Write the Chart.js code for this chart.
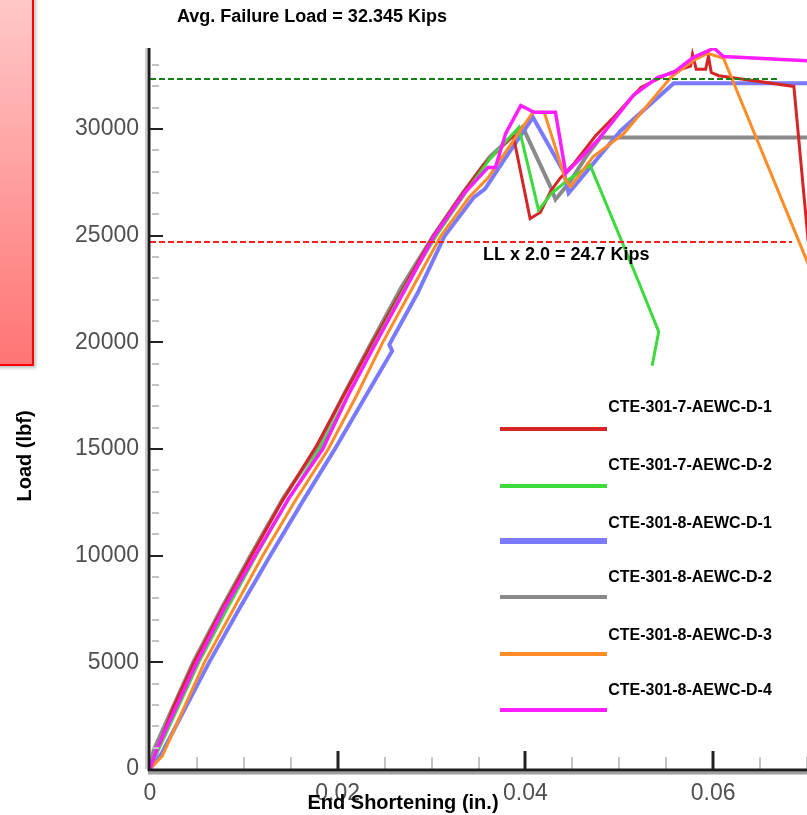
<!DOCTYPE html>
<html>
<head>
<meta charset="utf-8">
<script src="https://cdn.jsdelivr.net/npm/chart.js@4.4.1/dist/chart.umd.min.js"></script>
<style>
  html, body { margin: 0; padding: 0; background: #fff; }
  #wrap { position: relative; width: 807px; height: 815px; overflow: hidden; }
  #loadChart { position: absolute; left: 0; top: 0; }
  #tab {
    position: absolute; left: -10px; top: -10px; width: 42px; height: 374px;
    background: linear-gradient(#ffcaca, #ff7474);
    border-right: 2px solid #f00; border-bottom: 2px solid #f00;
    box-shadow: 2px 2px 3px rgba(0, 0, 0, 0.25);
  }
</style>
</head>
<body>
<div id="wrap">
  <canvas id="loadChart" width="807" height="815"></canvas>
  <div id="tab"></div>
</div>
<script>
// End shortening (in.) vs load (lbf) for each specimen
const specimenNames = [
  'CTE-301-7-AEWC-D-1', 'CTE-301-7-AEWC-D-2', 'CTE-301-8-AEWC-D-1',
  'CTE-301-8-AEWC-D-2', 'CTE-301-8-AEWC-D-3', 'CTE-301-8-AEWC-D-4'
];

const d7_1 = [[0,0],[0.0006,700],[0.0025,2900],[0.0047,5000],[0.0078,7600],[0.0108,10000],[0.014,12500],
  [0.0178,15200],[0.0205,17400],[0.0237,20000],[0.0268,22400],[0.0302,25000],[0.0332,26900],[0.0355,28300],
  [0.0387,29700],[0.0405,25800],[0.0416,26100],[0.0427,27100],[0.0437,27700],[0.0452,28400],[0.0475,29700],
  [0.0494,30550],[0.0523,31950],[0.0555,32650],[0.0576,32950],[0.0578,33500],[0.0582,32800],[0.0592,32800],
  [0.0595,33400],[0.0598,32650],[0.0606,32500],[0.0686,32000],[0.0702,24400]];

const d7_2 = [[0,0],[0.0008,800],[0.0052,5000],[0.0082,7500],[0.0113,10000],[0.0147,12600],[0.0181,15000],
  [0.0212,17600],[0.024,20000],[0.0272,22600],[0.0305,25000],[0.0336,27000],[0.0362,28600],[0.0393,30080],
  [0.0414,26200],[0.0428,27000],[0.0445,27600],[0.0469,28300],[0.052,22900],[0.0542,20500],[0.0535,18900]];

const d8_1 = [[0,0],[0.0012,700],[0.0063,5000],[0.0095,7500],[0.0128,10000],[0.0162,12500],[0.0197,15000],
  [0.023,17500],[0.0258,19600],[0.0255,19900],[0.0285,22300],[0.0314,25000],[0.0345,26800],[0.0357,27200],
  [0.0378,28600],[0.0408,30550],[0.0441,27975],[0.0446,27000],[0.0465,28000],[0.0501,29900],[0.0558,32150],
  [0.0702,32150]];

const d8_2 = [[0,0],[0.0004,900],[0.0046,5000],[0.0077,7600],[0.0107,10000],[0.0142,12700],[0.0177,15000],
  [0.0207,17600],[0.0236,20000],[0.0268,22600],[0.0302,25000],[0.0333,27000],[0.0362,28700],[0.0397,30100],
  [0.0427,27270],[0.0432,26700],[0.0447,27500],[0.0466,28800],[0.048,29600],[0.0702,29600]];

const d8_3 = [[0,0],[0.0013,600],[0.0058,5000],[0.0089,7500],[0.012,10000],[0.0155,12600],[0.019,15000],
  [0.022,17500],[0.0248,20000],[0.0279,22500],[0.031,25000],[0.034,26800],[0.036,27700],[0.038,29000],
  [0.0408,30790],[0.042,30790],[0.0443,27600],[0.0448,27300],[0.0472,28700],[0.0505,29800],[0.0555,32430],
  [0.0579,33220],[0.0594,33550],[0.0611,33320],[0.0702,23600]];

const d8_4 = [[0,0],[0.0008,1000],[0.005,5000],[0.008,7600],[0.0112,10000],[0.0148,12700],[0.0184,15000],
  [0.0212,17600],[0.0241,20000],[0.0272,22500],[0.0303,25000],[0.0335,27000],[0.036,28200],[0.0368,28200],
  [0.0379,29800],[0.0395,31100],[0.0402,30950],[0.0409,30790],[0.0432,30790],[0.0443,27930],[0.0477,29475],
  [0.0515,31580],[0.0541,32430],[0.0558,32660],[0.0579,33365],[0.0601,33790],[0.0611,33400],[0.0702,33200]];

const seriesData = [d7_1, d7_2, d8_1, d8_2, d8_3, d8_4];
const seriesColors = ['#d42626', '#3cda3c', '#7a7aff', '#8a8a8a', '#ff8c26', '#ff1eff'];
const seriesWidths = [3, 3, 4, 4, 3, 3.5];
const drawOrder = [4, 3, 5, 6, 2, 1];

// reference loads (lbf)
const avgFailureLoad = 32345;
const liveLoadX2 = 24700;

const xTicks = [0, 0.02, 0.04, 0.06];
const xTickLabels = ['0', '0.02', '0.04', '0.06'];
const yTicks = [0, 5000, 10000, 15000, 20000, 25000, 30000];
const yTickLabels = ['0', '5000', '10000', '15000', '20000', '25000', '30000'];

const toPoints = arr => arr.map(p => ({ x: p[0], y: p[1] }));

const datasets = seriesData.map((arr, i) => ({
  label: specimenNames[i],
  data: toPoints(arr),
  showLine: true,
  borderColor: seriesColors[i],
  borderWidth: seriesWidths[i],
  pointRadius: 0,
  tension: 0,
  order: drawOrder[i]
}));

datasets.push({
  label: 'avg',
  data: [{ x: 0, y: avgFailureLoad }, { x: 0.067, y: avgFailureLoad }],
  showLine: true, borderColor: '#1a7f1a', borderWidth: 2, borderDash: [6, 3],
  pointRadius: 0, order: 0
});
datasets.push({
  label: 'll',
  data: [{ x: 0, y: liveLoadX2 }, { x: 0.0684, y: liveLoadX2 }],
  showLine: true, borderColor: '#ff1e1e', borderWidth: 2, borderDash: [6, 3],
  pointRadius: 0, order: 0
});

const tickFont = { family: 'Arial, "Liberation Sans", sans-serif', size: 23 };
const boldFont = '"Liberation Sans", Arial, sans-serif';

// axes, inside ticks, notes and the legend
const decorations = {
  id: 'decorations',
  afterDatasetsDraw(chart) {
    const ctx = chart.ctx;
    const a = chart.chartArea;
    const xs = chart.scales.x;
    const ys = chart.scales.y;
    ctx.save();

    // minor ticks
    ctx.strokeStyle = '#c4c4c4';
    ctx.lineWidth = 2;
    for (let v = 1000; v <= 33000; v += 1000) {
      if (v % 5000 === 0) continue;
      const y = Math.round(ys.getPixelForValue(v));
      ctx.beginPath(); ctx.moveTo(a.left + 2, y); ctx.lineTo(a.left + 9, y); ctx.stroke();
    }
    for (let i = 1; i <= 14; i++) {
      if (i % 4 === 0) continue;
      const x = Math.round(xs.getPixelForValue(i * 0.005));
      ctx.beginPath(); ctx.moveTo(x, a.bottom); ctx.lineTo(x, a.bottom - 12); ctx.stroke();
    }

    // major ticks
    ctx.strokeStyle = '#222';
    ctx.lineWidth = 2;
    yTicks.slice(1).forEach(v => {
      const y = Math.round(ys.getPixelForValue(v));
      ctx.beginPath(); ctx.moveTo(a.left, y); ctx.lineTo(a.left + 13, y); ctx.stroke();
    });
    ctx.lineWidth = 3;
    xTicks.slice(1).forEach(v => {
      const x = Math.round(xs.getPixelForValue(v));
      ctx.beginPath(); ctx.moveTo(x, a.bottom); ctx.lineTo(x, a.bottom - 18); ctx.stroke();
    });

    // axis lines with soft grey shadow
    ctx.strokeStyle = '#cfcfcf';
    ctx.lineWidth = 2;
    ctx.beginPath(); ctx.moveTo(a.left - 4, a.top); ctx.lineTo(a.left - 4, a.bottom); ctx.stroke();
    ctx.strokeStyle = '#a0a0a0';
    ctx.lineWidth = 3;
    ctx.beginPath(); ctx.moveTo(a.left - 2, a.bottom + 4); ctx.lineTo(a.right, a.bottom + 4); ctx.stroke();
    ctx.strokeStyle = '#1e1e1e';
    ctx.lineWidth = 3;
    ctx.beginPath(); ctx.moveTo(a.left - 1, a.top); ctx.lineTo(a.left - 1, a.bottom + 2); ctx.stroke();
    ctx.beginPath(); ctx.moveTo(a.left - 2, a.bottom + 1); ctx.lineTo(a.right, a.bottom + 1); ctx.stroke();

    // axis titles and notes
    ctx.fillStyle = '#000';
    ctx.textBaseline = 'middle';
    ctx.font = 'bold 18px ' + boldFont;
    ctx.textAlign = 'left';
    ctx.fillText('Avg. Failure Load = 32.345 Kips', 177, 17);
    ctx.fillText('LL x 2.0 = 24.7 Kips', 483, 255);

    ctx.font = 'bold 20px ' + boldFont;
    ctx.textAlign = 'center';
    ctx.fillText('End Shortening (in.)', 403, 803);
    ctx.save();
    ctx.translate(25, 456);
    ctx.rotate(-Math.PI / 2);
    ctx.fillText('Load (lbf)', 0, 0);
    ctx.restore();

    // legend
    const rows = [408, 466, 524, 578, 636, 691];
    const lineRows = [429, 486, 541, 597, 654, 710];
    ctx.font = 'bold 16px ' + boldFont;
    specimenNames.forEach((name, i) => {
      ctx.strokeStyle = seriesColors[i];
      ctx.lineWidth = i === 2 ? 6 : 4;
      ctx.beginPath(); ctx.moveTo(500, lineRows[i]); ctx.lineTo(607, lineRows[i]); ctx.stroke();
      ctx.fillStyle = '#000';
      ctx.fillText(name, 690, rows[i]);
    });
    ctx.restore();
  }
};

new Chart(document.getElementById('loadChart'), {
  type: 'scatter',
  data: { datasets },
  options: {
    responsive: false,
    animation: false,
    devicePixelRatio: 1,
    layout: { padding: { left: 0, top: 48, right: 0, bottom: 0 } },
    plugins: { legend: { display: false }, tooltip: { enabled: false } },
    scales: {
      x: {
        type: 'linear', min: 0, max: 0.07,
        afterFit: s => { s.height = 46; },
        afterBuildTicks: s => { s.ticks = xTicks.map(v => ({ value: v })); },
        grid: { display: false, drawTicks: false },
        border: { display: false },
        ticks: { font: tickFont, color: '#505050', padding: 11, maxRotation: 0,
                 callback: (v, i) => xTickLabels[i] }
      },
      y: {
        type: 'linear', min: 0, max: 33800,
        afterFit: s => { s.width = 150; },
        afterBuildTicks: s => { s.ticks = yTicks.map(v => ({ value: v })); },
        grid: { display: false, drawTicks: false },
        border: { display: false },
        ticks: { font: tickFont, color: '#505050', padding: 11,
                 callback: (v, i) => yTickLabels[i] }
      }
    }
  },
  plugins: [decorations]
});
</script>
</body>
</html>
